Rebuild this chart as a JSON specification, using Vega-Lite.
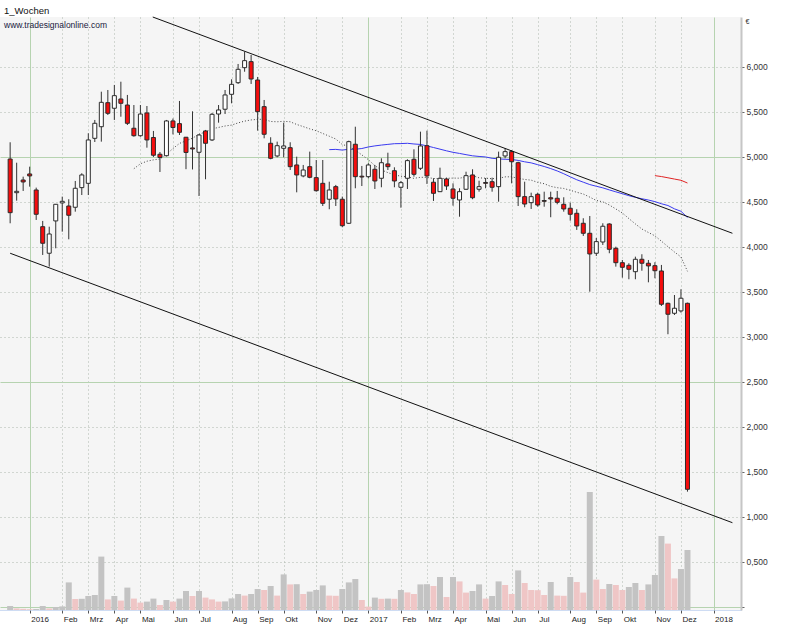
{
  "$schema": "https://vega.github.io/schema/vega-lite/v6.json",
  "width": 741,
  "height": 593,
  "autosize": {"type": "none"},
  "padding": {"left": 0, "top": 17, "right": 46, "bottom": 17},
  "background": "white",
  "title": {
    "text": "1_Wochen",
    "subtitle": "www.tradesignalonline.com",
    "anchor": "start",
    "frame": "group",
    "offset": -13,
    "dx": 4,
    "font": "Liberation Sans",
    "fontSize": 9.5,
    "fontWeight": "normal",
    "color": "#111111",
    "subtitleFont": "Liberation Sans",
    "subtitleFontSize": 8.5,
    "subtitleColor": "#1a1a40",
    "subtitlePadding": 6
  },
  "datasets": {
    "w": [
      {"k": -3, "o": 4.974, "h": 5.160, "l": 4.260, "c": 4.378, "vol": 2.0},
      {"k": -2, "o": 4.600, "h": 4.933, "l": 4.511, "c": 4.615, "vol": 0.8},
      {"k": -1, "o": 4.741, "h": 4.778, "l": 4.619, "c": 4.719, "vol": 0.6},
      {"k": 0, "o": 4.808, "h": 4.889, "l": 4.667, "c": 4.786, "vol": 0.4},
      {"k": 1, "o": 4.630, "h": 4.656, "l": 4.297, "c": 4.360, "vol": 0.5},
      {"k": 2, "o": 4.222, "h": 4.286, "l": 3.908, "c": 4.038, "vol": 2.0},
      {"k": 3, "o": 3.927, "h": 4.222, "l": 3.778, "c": 4.141, "vol": 0.8},
      {"k": 4, "o": 4.286, "h": 4.474, "l": 3.982, "c": 4.471, "vol": 1.5},
      {"k": 5, "o": 4.486, "h": 4.556, "l": 4.167, "c": 4.504, "vol": 1.8},
      {"k": 6, "o": 4.452, "h": 4.527, "l": 4.082, "c": 4.349, "vol": 13.8},
      {"k": 7, "o": 4.438, "h": 4.730, "l": 4.389, "c": 4.649, "vol": 5.5},
      {"k": 8, "o": 4.656, "h": 4.816, "l": 4.574, "c": 4.797, "vol": 5.6},
      {"k": 9, "o": 4.704, "h": 5.260, "l": 4.574, "c": 5.186, "vol": 7.0},
      {"k": 10, "o": 5.204, "h": 5.408, "l": 5.163, "c": 5.371, "vol": 7.5},
      {"k": 11, "o": 5.333, "h": 5.722, "l": 5.167, "c": 5.604, "vol": 26.7},
      {"k": 12, "o": 5.600, "h": 5.741, "l": 5.463, "c": 5.482, "vol": 5.3},
      {"k": 13, "o": 5.538, "h": 5.797, "l": 5.408, "c": 5.678, "vol": 7.0},
      {"k": 14, "o": 5.641, "h": 5.833, "l": 5.444, "c": 5.593, "vol": 4.7},
      {"k": 15, "o": 5.574, "h": 5.686, "l": 5.352, "c": 5.371, "vol": 11.2},
      {"k": 16, "o": 5.316, "h": 5.574, "l": 5.222, "c": 5.233, "vol": 5.7},
      {"k": 17, "o": 5.233, "h": 5.574, "l": 5.222, "c": 5.474, "vol": 3.7},
      {"k": 18, "o": 5.486, "h": 5.563, "l": 5.100, "c": 5.186, "vol": 4.2},
      {"k": 19, "o": 5.213, "h": 5.286, "l": 4.997, "c": 5.016, "vol": 5.7},
      {"k": 20, "o": 5.027, "h": 5.052, "l": 4.830, "c": 4.991, "vol": 2.5},
      {"k": 21, "o": 5.011, "h": 5.408, "l": 5.002, "c": 5.397, "vol": 5.0},
      {"k": 22, "o": 5.397, "h": 5.424, "l": 5.247, "c": 5.324, "vol": 4.2},
      {"k": 23, "o": 5.367, "h": 5.619, "l": 5.241, "c": 5.271, "vol": 5.7},
      {"k": 24, "o": 5.216, "h": 5.219, "l": 4.861, "c": 5.047, "vol": 9.5},
      {"k": 25, "o": 5.097, "h": 5.504, "l": 4.858, "c": 5.086, "vol": 7.0},
      {"k": 26, "o": 5.049, "h": 5.252, "l": 4.563, "c": 5.241, "vol": 9.5},
      {"k": 27, "o": 5.286, "h": 5.297, "l": 4.749, "c": 5.149, "vol": 6.2},
      {"k": 28, "o": 5.186, "h": 5.486, "l": 5.174, "c": 5.471, "vol": 5.3},
      {"k": 29, "o": 5.474, "h": 5.574, "l": 5.378, "c": 5.519, "vol": 4.2},
      {"k": 30, "o": 5.527, "h": 5.741, "l": 5.474, "c": 5.686, "vol": 4.3},
      {"k": 31, "o": 5.693, "h": 5.860, "l": 5.593, "c": 5.804, "vol": 5.8},
      {"k": 32, "o": 5.822, "h": 6.030, "l": 5.808, "c": 5.971, "vol": 8.0},
      {"k": 33, "o": 5.989, "h": 6.167, "l": 5.944, "c": 6.067, "vol": 7.2},
      {"k": 34, "o": 6.056, "h": 6.130, "l": 5.808, "c": 5.863, "vol": 8.0},
      {"k": 35, "o": 5.852, "h": 5.886, "l": 5.289, "c": 5.500, "vol": 10.5},
      {"k": 36, "o": 5.556, "h": 5.630, "l": 5.204, "c": 5.249, "vol": 10.0},
      {"k": 37, "o": 5.149, "h": 5.216, "l": 4.971, "c": 4.982, "vol": 12.0},
      {"k": 38, "o": 5.008, "h": 5.167, "l": 4.993, "c": 5.122, "vol": 7.2},
      {"k": 39, "o": 5.093, "h": 5.378, "l": 4.993, "c": 5.119, "vol": 17.8},
      {"k": 40, "o": 5.100, "h": 5.160, "l": 4.852, "c": 4.889, "vol": 12.8},
      {"k": 41, "o": 4.908, "h": 5.000, "l": 4.604, "c": 4.797, "vol": 12.9},
      {"k": 42, "o": 4.786, "h": 4.908, "l": 4.771, "c": 4.852, "vol": 8.0},
      {"k": 43, "o": 4.889, "h": 5.056, "l": 4.760, "c": 4.771, "vol": 9.2},
      {"k": 44, "o": 4.767, "h": 4.963, "l": 4.611, "c": 4.622, "vol": 10.0},
      {"k": 45, "o": 4.704, "h": 4.963, "l": 4.452, "c": 4.482, "vol": 12.3},
      {"k": 46, "o": 4.527, "h": 4.722, "l": 4.416, "c": 4.630, "vol": 7.2},
      {"k": 47, "o": 4.667, "h": 4.686, "l": 4.452, "c": 4.530, "vol": 7.1},
      {"k": 48, "o": 4.527, "h": 4.556, "l": 4.216, "c": 4.233, "vol": 10.5},
      {"k": 49, "o": 4.260, "h": 5.178, "l": 4.252, "c": 5.167, "vol": 13.8},
      {"k": 50, "o": 5.138, "h": 5.333, "l": 4.649, "c": 4.778, "vol": 15.5},
      {"k": 51, "o": 4.783, "h": 4.897, "l": 4.674, "c": 4.774, "vol": 5.0},
      {"k": 52, "o": 4.778, "h": 4.927, "l": 4.760, "c": 4.908, "vol": 1.7},
      {"k": 53, "o": 4.860, "h": 4.908, "l": 4.641, "c": 4.730, "vol": 6.2},
      {"k": 54, "o": 4.760, "h": 4.982, "l": 4.660, "c": 4.933, "vol": 5.6},
      {"k": 55, "o": 4.919, "h": 5.044, "l": 4.852, "c": 4.889, "vol": 5.7},
      {"k": 56, "o": 4.844, "h": 4.882, "l": 4.660, "c": 4.730, "vol": 5.6},
      {"k": 57, "o": 4.660, "h": 4.730, "l": 4.433, "c": 4.711, "vol": 10.0},
      {"k": 58, "o": 4.760, "h": 4.971, "l": 4.641, "c": 4.956, "vol": 8.8},
      {"k": 59, "o": 4.971, "h": 5.082, "l": 4.778, "c": 4.804, "vol": 8.0},
      {"k": 60, "o": 4.871, "h": 5.278, "l": 4.852, "c": 5.119, "vol": 12.8},
      {"k": 61, "o": 5.122, "h": 5.289, "l": 4.697, "c": 4.786, "vol": 12.9},
      {"k": 62, "o": 4.716, "h": 4.760, "l": 4.508, "c": 4.593, "vol": 12.0},
      {"k": 63, "o": 4.611, "h": 4.878, "l": 4.608, "c": 4.760, "vol": 16.5},
      {"k": 64, "o": 4.752, "h": 4.767, "l": 4.630, "c": 4.674, "vol": 6.5},
      {"k": 65, "o": 4.641, "h": 4.704, "l": 4.456, "c": 4.538, "vol": 16.5},
      {"k": 66, "o": 4.519, "h": 4.649, "l": 4.333, "c": 4.611, "vol": 14.3},
      {"k": 67, "o": 4.638, "h": 4.833, "l": 4.630, "c": 4.789, "vol": 8.7},
      {"k": 68, "o": 4.797, "h": 4.860, "l": 4.527, "c": 4.544, "vol": 9.5},
      {"k": 69, "o": 4.638, "h": 4.733, "l": 4.611, "c": 4.667, "vol": 12.8},
      {"k": 70, "o": 4.713, "h": 4.763, "l": 4.649, "c": 4.704, "vol": 5.7},
      {"k": 71, "o": 4.722, "h": 4.767, "l": 4.611, "c": 4.660, "vol": 7.0},
      {"k": 72, "o": 4.667, "h": 5.056, "l": 4.500, "c": 4.993, "vol": 14.3},
      {"k": 73, "o": 5.008, "h": 5.093, "l": 4.982, "c": 5.056, "vol": 12.5},
      {"k": 74, "o": 5.056, "h": 5.074, "l": 4.704, "c": 4.944, "vol": 8.0},
      {"k": 75, "o": 4.933, "h": 4.944, "l": 4.452, "c": 4.556, "vol": 19.8},
      {"k": 76, "o": 4.556, "h": 4.722, "l": 4.438, "c": 4.474, "vol": 13.5},
      {"k": 77, "o": 4.489, "h": 4.600, "l": 4.419, "c": 4.556, "vol": 10.0},
      {"k": 78, "o": 4.582, "h": 4.600, "l": 4.444, "c": 4.463, "vol": 9.9},
      {"k": 79, "o": 4.513, "h": 4.611, "l": 4.444, "c": 4.504, "vol": 7.5},
      {"k": 80, "o": 4.544, "h": 4.611, "l": 4.327, "c": 4.530, "vol": 14.0},
      {"k": 81, "o": 4.538, "h": 4.619, "l": 4.471, "c": 4.493, "vol": 7.2},
      {"k": 82, "o": 4.471, "h": 4.549, "l": 4.389, "c": 4.419, "vol": 7.1},
      {"k": 83, "o": 4.427, "h": 4.489, "l": 4.289, "c": 4.360, "vol": 16.5},
      {"k": 84, "o": 4.371, "h": 4.416, "l": 4.186, "c": 4.230, "vol": 14.0},
      {"k": 85, "o": 4.260, "h": 4.316, "l": 4.119, "c": 4.149, "vol": 8.7},
      {"k": 86, "o": 4.149, "h": 4.341, "l": 3.500, "c": 3.919, "vol": 59.0},
      {"k": 87, "o": 3.927, "h": 4.097, "l": 3.897, "c": 4.056, "vol": 15.2},
      {"k": 88, "o": 4.052, "h": 4.260, "l": 4.019, "c": 4.227, "vol": 10.5},
      {"k": 89, "o": 4.252, "h": 4.260, "l": 3.927, "c": 3.971, "vol": 13.0},
      {"k": 90, "o": 3.982, "h": 4.000, "l": 3.778, "c": 3.822, "vol": 12.5},
      {"k": 91, "o": 3.822, "h": 3.852, "l": 3.656, "c": 3.771, "vol": 10.0},
      {"k": 92, "o": 3.793, "h": 3.816, "l": 3.638, "c": 3.749, "vol": 11.5},
      {"k": 93, "o": 3.722, "h": 3.889, "l": 3.638, "c": 3.860, "vol": 13.5},
      {"k": 94, "o": 3.860, "h": 3.916, "l": 3.733, "c": 3.816, "vol": 10.0},
      {"k": 95, "o": 3.816, "h": 3.852, "l": 3.604, "c": 3.786, "vol": 12.8},
      {"k": 96, "o": 3.789, "h": 3.827, "l": 3.649, "c": 3.733, "vol": 17.5},
      {"k": 97, "o": 3.730, "h": 3.797, "l": 3.341, "c": 3.360, "vol": 37.0},
      {"k": 98, "o": 3.371, "h": 3.378, "l": 3.027, "c": 3.249, "vol": 33.2},
      {"k": 99, "o": 3.260, "h": 3.463, "l": 3.241, "c": 3.316, "vol": 15.8},
      {"k": 100, "o": 3.286, "h": 3.527, "l": 3.267, "c": 3.427, "vol": 20.5},
      {"k": 101, "o": 3.371, "h": 3.378, "l": 1.278, "c": 1.304, "vol": 30.0}
    ],
    "ch": [
      {"k1": 18.9, "v1": 6.552, "k2": 107.9, "v2": 4.149},
      {"k1": -3, "v1": 3.927, "k2": 107.9, "v2": 0.933}
    ]
  },
  "layer": [
    {
      "data": {"name": "w"},
      "mark": {"type": "rule", "color": "#111111", "opacity": 0},
      "encoding": {
        "x": {
          "field": "k", "type": "quantitative",
          "scale": {"domain": [-3.79, 108.45], "nice": false, "zero": false},
          "axis": {
            "orient": "bottom",
            "values": [0, 5, 9, 13, 17, 22, 26, 31, 35, 39, 44, 48, 52, 57, 61, 65, 70, 74, 78, 83, 87, 91, 96, 100, 105],
            "tickCount": 60,
            "labelExpr": "['2016','Feb','Mrz','Apr','Mai','Jun','Jul','Aug','Sep','Okt','Nov','Dez','2017','Feb','Mrz','Apr','Mai','Jun','Jul','Aug','Sep','Okt','Nov','Dez','2018'][indexof([0,5,9,13,17,22,26,31,35,39,44,48,52,57,61,65,70,74,78,83,87,91,96,100,105], datum.value)]",
            "labelAlign": "left",
            "labelOffset": 1,
            "labelPadding": 2,
            "labelFontSize": 8,
            "labelColor": "#222222",
            "labelFont": "Liberation Sans",
            "labelOverlap": false,
            "labelBound": false,
            "labelFlush": false,
            "tickSize": 3,
            "tickColor": "#555555",
            "domain": true,
            "domainColor": "#9db8e6",
            "domainDash": [1, 1],
            "title": null,
            "grid": true,
            "gridColor": {"condition": {"test": "indexof([0,52,105], datum.value) >= 0", "value": "#b6d3b0"}, "value": "#adb6ad"},
            "gridDash": {"condition": {"test": "indexof([0,52,105], datum.value) >= 0", "value": []}, "value": [1, 3]},
            "gridWidth": 1
          }
        },
        "y": {
          "field": "c", "type": "quantitative",
          "scale": {"domain": [-0.037, 6.552], "nice": false, "zero": false},
          "axis": {
            "orient": "right",
            "values": [0, 0.5, 1, 1.5, 2, 2.5, 3, 3.5, 4, 4.5, 5, 5.5, 6],
            "tickCount": 30,
            "labelExpr": "datum.value == 0 ? '' : replace(format(datum.value, '.3f'), '.', ',')",
            "labelFont": "Liberation Sans",
            "labelFontSize": 8.5,
            "labelColor": "#333333",
            "labelPadding": 2,
            "labelOverlap": false,
            "tickSize": 3,
            "tickColor": "#666666",
            "domain": true,
            "domainColor": "#c6c6c6",
            "domainWidth": 2,
            "title": "€",
            "titleAngle": 0,
            "titleAlign": "left",
            "titleBaseline": "middle",
            "titleX": 4,
            "titleY": 4,
            "titleFont": "Liberation Sans",
            "titleFontSize": 7,
            "titleFontWeight": "normal",
            "titleColor": "#333333",
            "grid": true,
            "gridColor": {"condition": {"test": "datum.value % 2.5 === 0", "value": "#b6d3b0"}, "value": "#adb6ad"},
            "gridDash": {"condition": {"test": "datum.value % 2.5 === 0", "value": []}, "value": [1, 3]},
            "gridWidth": 1
          }
        }
      }
    },
    {
      "data": {"name": "w"},
      "transform": [
        {"window": [{"op": "lag", "field": "vol", "as": "pv"}], "sort": [{"field": "k", "order": "ascending"}]}
      ],
      "mark": {"type": "bar", "width": 6},
      "encoding": {
        "x": {"field": "k", "type": "quantitative", "scale": {"domain": [-3.79, 108.45], "nice": false, "zero": false}},
        "y": {"field": "vol", "type": "quantitative", "scale": {"domain": [0, 296.5], "nice": false}, "axis": null},
        "color": {"condition": {"test": "datum.pv == null || datum.vol >= datum.pv", "value": "#c3c3c3"}, "value": "#efc6c6"}
      }
    },
    {
      "layer": [
        {
          "data": {"name": "w"},
          "transform": [
            {"window": [{"op": "mean", "field": "c", "as": "ma"}, {"op": "count", "field": "c", "as": "n"}], "frame": [-19, 0], "sort": [{"field": "k", "order": "ascending"}]},
            {"filter": "datum.n >= 20"}
          ],
          "mark": {"type": "line", "color": "#444444", "strokeWidth": 1, "strokeDash": [1, 2]},
          "encoding": {
            "x": {"field": "k", "type": "quantitative"},
            "y": {"field": "ma", "type": "quantitative", "scale": {"domain": [-0.037, 6.552], "nice": false, "zero": false}, "axis": null}
          }
        },
        {
          "data": {"name": "w"},
          "transform": [
            {"window": [{"op": "mean", "field": "c", "as": "ma"}, {"op": "count", "field": "c", "as": "n"}], "frame": [-49, 0], "sort": [{"field": "k", "order": "ascending"}]},
            {"filter": "datum.n >= 50"}
          ],
          "mark": {"type": "line", "color": "#3a3af0", "strokeWidth": 1},
          "encoding": {
            "x": {"field": "k", "type": "quantitative"},
            "y": {"field": "ma", "type": "quantitative"}
          }
        },
        {
          "data": {"name": "w"},
          "transform": [
            {"window": [{"op": "mean", "field": "c", "as": "ma"}, {"op": "count", "field": "c", "as": "n"}], "frame": [-99, 0], "sort": [{"field": "k", "order": "ascending"}]},
            {"filter": "datum.n >= 100"}
          ],
          "mark": {"type": "line", "color": "#e02424", "strokeWidth": 1},
          "encoding": {
            "x": {"field": "k", "type": "quantitative"},
            "y": {"field": "ma", "type": "quantitative"}
          }
        },
        {
          "data": {"name": "w"},
          "mark": {"type": "rule", "color": "#333333", "strokeWidth": 1},
          "encoding": {
            "x": {"field": "k", "type": "quantitative"},
            "y": {"field": "l", "type": "quantitative"},
            "y2": {"field": "h"}
          }
        },
        {
          "data": {"name": "w"},
          "mark": {"type": "bar", "width": 4, "stroke": "#2b2b2b", "strokeWidth": 1},
          "encoding": {
            "x": {"field": "k", "type": "quantitative"},
            "y": {"field": "o", "type": "quantitative"},
            "y2": {"field": "c"},
            "fill": {"condition": {"test": "datum.c < datum.o", "value": "#f50d0d"}, "value": "#ffffff"}
          }
        },
        {
          "data": {"name": "ch"},
          "mark": {"type": "rule", "color": "#111111", "strokeWidth": 1},
          "encoding": {
            "x": {"field": "k1", "type": "quantitative"},
            "x2": {"field": "k2"},
            "y": {"field": "v1", "type": "quantitative"},
            "y2": {"field": "v2"}
          }
        }
      ]
    }
  ],
  "resolve": {"scale": {"y": "independent"}},
  "config": {
    "view": {"fill": "#f5f5f5", "stroke": null},
    "font": "Liberation Sans",
    "axis": {"labelOverlap": false}
  }
}
